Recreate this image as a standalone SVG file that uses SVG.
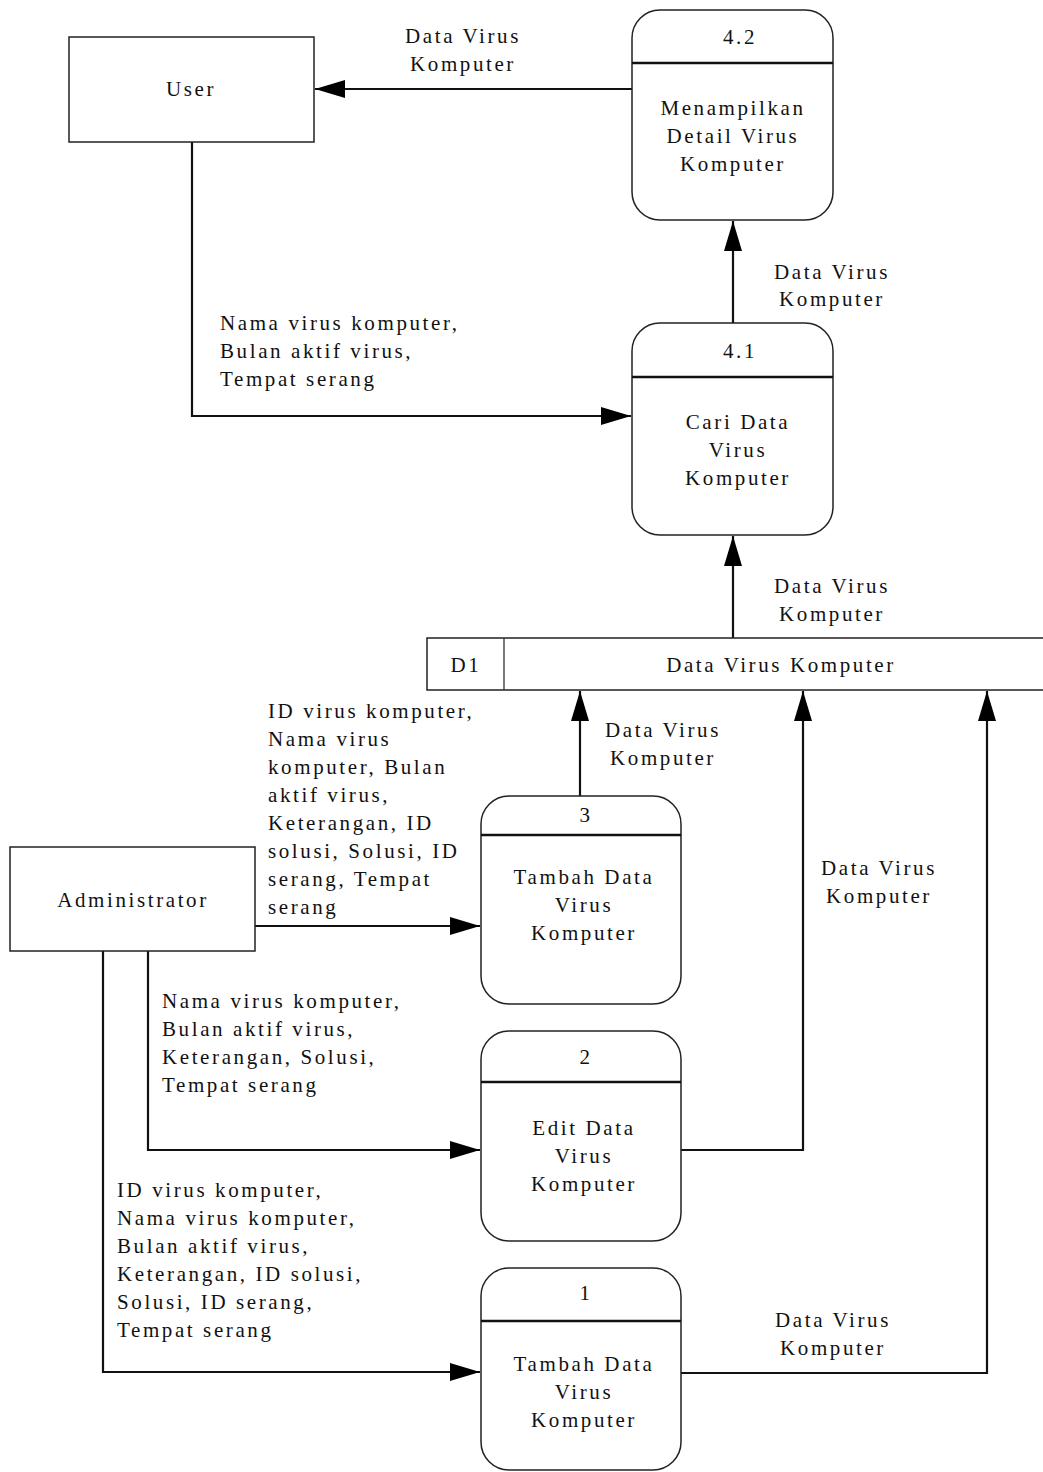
<svg xmlns="http://www.w3.org/2000/svg" width="1043" height="1472" viewBox="0 0 1043 1472">
  <style>
    text { font-family: "Liberation Serif", "Times New Roman", serif; font-size: 21px; letter-spacing: 2.6px; fill: #111; }
    .c { text-anchor: middle; }
    .box { fill: #fff; stroke: #222; stroke-width: 1.5; }
    .sep { stroke: #111; stroke-width: 2.5; }
    .flow { fill: none; stroke: #111; stroke-width: 2.2; }
  </style>
  <defs>
    <marker id="arrow" markerUnits="userSpaceOnUse" markerWidth="30" markerHeight="20" refX="30" refY="9" orient="auto">
      <path d="M0,0 L30,9 L0,18 Z" fill="#000"/>
    </marker>
  </defs>

  <rect width="1043" height="1472" fill="#fff"/>

  <!-- connectors -->
  <g id="connectors">
    <!-- 4.2 -> User -->
    <path class="flow" d="M632,89 L315,89" marker-end="url(#arrow)"/>
    <text class="c" x="463" y="43">Data Virus</text>
    <text class="c" x="463" y="71">Komputer</text>

    <!-- User -> 4.1 -->
    <path class="flow" d="M192,142 L192,416 L631,416" marker-end="url(#arrow)"/>
    <text x="220" y="330">Nama virus komputer,</text>
    <text x="220" y="358">Bulan aktif virus,</text>
    <text x="220" y="386">Tempat serang</text>

    <!-- 4.1 -> 4.2 -->
    <path class="flow" d="M733,323 L733,221" stroke-width="1.6" marker-end="url(#arrow)"/>
    <text class="c" x="832" y="279">Data Virus</text>
    <text class="c" x="832" y="306">Komputer</text>

    <!-- D1 -> 4.1 -->
    <path class="flow" d="M733,638 L733,536" marker-end="url(#arrow)"/>
    <text class="c" x="832" y="593">Data Virus</text>
    <text class="c" x="832" y="621">Komputer</text>

    <!-- 3 -> D1 -->
    <path class="flow" d="M580,796 L580,691" stroke-width="1.6" marker-end="url(#arrow)"/>
    <text class="c" x="663" y="737">Data Virus</text>
    <text class="c" x="663" y="765">Komputer</text>

    <!-- 2 -> D1 -->
    <path class="flow" d="M681,1150 L803,1150 L803,691" marker-end="url(#arrow)"/>
    <text class="c" x="879" y="875">Data Virus</text>
    <text class="c" x="879" y="903">Komputer</text>

    <!-- 1 -> D1 -->
    <path class="flow" d="M681,1373 L987,1373 L987,691" marker-end="url(#arrow)"/>
    <text class="c" x="833" y="1327">Data Virus</text>
    <text class="c" x="833" y="1355">Komputer</text>

    <!-- Administrator -> 3 -->
    <path class="flow" d="M255,926 L480,926" marker-end="url(#arrow)"/>
    <text x="268" y="718">ID virus komputer,</text>
    <text x="268" y="746">Nama virus</text>
    <text x="268" y="774">komputer, Bulan</text>
    <text x="268" y="802">aktif virus,</text>
    <text x="268" y="830">Keterangan, ID</text>
    <text x="268" y="858">solusi, Solusi, ID</text>
    <text x="268" y="886">serang, Tempat</text>
    <text x="268" y="914">serang</text>

    <!-- Administrator -> 2 -->
    <path class="flow" d="M148,951 L148,1150 L480,1150" marker-end="url(#arrow)"/>
    <text x="162" y="1008">Nama virus komputer,</text>
    <text x="162" y="1036">Bulan aktif virus,</text>
    <text x="162" y="1064">Keterangan, Solusi,</text>
    <text x="162" y="1092">Tempat serang</text>

    <!-- Administrator -> 1 -->
    <path class="flow" d="M103,951 L103,1372 L480,1372" marker-end="url(#arrow)"/>
    <text x="117" y="1197">ID virus komputer,</text>
    <text x="117" y="1225">Nama virus komputer,</text>
    <text x="117" y="1253">Bulan aktif virus,</text>
    <text x="117" y="1281">Keterangan, ID solusi,</text>
    <text x="117" y="1309">Solusi, ID serang,</text>
    <text x="117" y="1337">Tempat serang</text>
  </g>

  <!-- external entities -->
  <g id="user">
    <rect class="box" x="69" y="37" width="245" height="105"/>
    <text class="c" x="191" y="96">User</text>
  </g>
  <g id="administrator">
    <rect class="box" x="10" y="847" width="245" height="104"/>
    <text class="c" x="133" y="907">Administrator</text>
  </g>

  <!-- processes -->
  <g id="p4-2">
    <rect class="box" x="632" y="10" width="201" height="210" rx="28" ry="28"/>
    <line class="sep" x1="632" y1="63" x2="833" y2="63"/>
    <text class="c" x="740" y="44">4.2</text>
    <text class="c" x="733" y="115">Menampilkan</text>
    <text class="c" x="733" y="143">Detail Virus</text>
    <text class="c" x="733" y="171">Komputer</text>
  </g>
  <g id="p4-1">
    <rect class="box" x="632" y="323" width="201" height="212" rx="28" ry="28"/>
    <line class="sep" x1="632" y1="377" x2="833" y2="377"/>
    <text class="c" x="740" y="358">4.1</text>
    <text class="c" x="738" y="429">Cari Data</text>
    <text class="c" x="738" y="457">Virus</text>
    <text class="c" x="738" y="485">Komputer</text>
  </g>
  <g id="p3">
    <rect class="box" x="481" y="796" width="200" height="208" rx="28" ry="28"/>
    <line class="sep" x1="481" y1="835" x2="681" y2="835"/>
    <text class="c" x="586" y="822">3</text>
    <text class="c" x="584" y="884">Tambah Data</text>
    <text class="c" x="584" y="912">Virus</text>
    <text class="c" x="584" y="940">Komputer</text>
  </g>
  <g id="p2">
    <rect class="box" x="481" y="1031" width="200" height="210" rx="28" ry="28"/>
    <line class="sep" x1="481" y1="1082" x2="681" y2="1082"/>
    <text class="c" x="586" y="1064">2</text>
    <text class="c" x="584" y="1135">Edit Data</text>
    <text class="c" x="584" y="1163">Virus</text>
    <text class="c" x="584" y="1191">Komputer</text>
  </g>
  <g id="p1">
    <rect class="box" x="481" y="1268" width="200" height="202" rx="28" ry="28"/>
    <line class="sep" x1="481" y1="1321" x2="681" y2="1321"/>
    <text class="c" x="586" y="1300">1</text>
    <text class="c" x="584" y="1371">Tambah Data</text>
    <text class="c" x="584" y="1399">Virus</text>
    <text class="c" x="584" y="1427">Komputer</text>
  </g>

  <!-- data store -->
  <g id="d1">
    <path fill="#fff" stroke="none" d="M427,638 H1043 V690 H427 Z"/>
    <path fill="none" stroke="#222" stroke-width="1.5" d="M1043,638 H427 V690 H1043"/>
    <line x1="504" y1="638" x2="504" y2="690" stroke="#222" stroke-width="1.2"/>
    <text class="c" x="466" y="672">D1</text>
    <text class="c" x="781" y="672">Data Virus Komputer</text>
  </g>
</svg>
